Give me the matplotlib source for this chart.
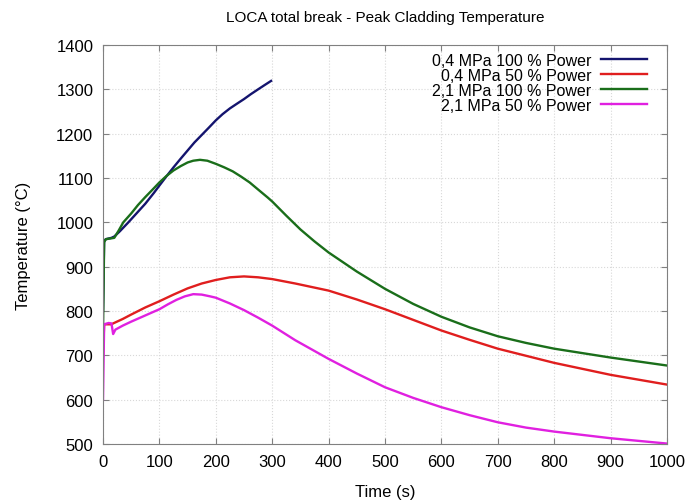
import matplotlib
matplotlib.use('Agg')
import matplotlib.pyplot as plt

plt.rcParams['font.family'] = ['Liberation Sans', 'DejaVu Sans']

# 0,4 MPa 100 % Power
t_04_100 = [0, 2, 5, 15, 20, 30, 45, 60, 75, 90, 100, 112, 125, 138, 150, 162, 175, 188, 200, 212,
            225, 238, 250, 262, 275, 287, 298]
T_04_100 = [800, 958, 962, 965, 968, 980, 1000, 1021, 1042, 1066, 1083, 1103, 1124, 1144, 1162, 1180,
            1197, 1214, 1230, 1244, 1257, 1268, 1278, 1289, 1300, 1310, 1319]

# 0,4 MPa 50 % Power
t_04_50 = [0, 2, 15, 18, 35, 50, 75, 100, 125, 150, 175, 200, 225, 250, 275, 300, 341, 400, 450,
           500, 550, 600, 650, 700, 800, 900, 1000]
T_04_50 = [700, 770, 770, 772, 782, 792, 808, 822, 837, 851, 862, 870, 876, 878, 876, 872, 862, 846,
           826, 804, 780, 756, 735, 715, 683, 656, 634]

# 2,1 MPa 100 % Power
t_21_100 = [0, 2, 5, 20, 28, 36, 50, 62, 75, 88, 100, 112, 125, 138, 150, 160, 172, 185, 200, 215,
            230, 245, 260, 275, 292, 300, 325, 350, 375, 400, 450, 500, 550, 600, 650, 700, 750, 800,
            900, 1000]
T_21_100 = [750, 955, 962, 965, 982, 1000, 1020, 1039, 1057, 1074, 1090, 1104, 1117, 1127, 1135, 1139,
            1141, 1139, 1132, 1124, 1115, 1103, 1090, 1074, 1056, 1047, 1015, 984, 957, 932, 889, 850,
            816, 787, 763, 743, 728, 715, 695, 677]

# 2,1 MPa 50 % Power
t_21_50 = [0, 2, 10, 15, 18, 22, 35, 50, 75, 100, 115, 130, 145, 160, 175, 190, 200, 225, 250, 275,
           300, 341, 400, 450, 500, 550, 600, 650, 700, 750, 800, 900, 1000]
T_21_50 = [600, 770, 773, 772, 748, 758, 767, 776, 790, 804, 815, 825, 833, 838, 837, 833, 830, 817,
           802, 785, 767, 734, 692, 659, 628, 604, 583, 565, 549, 537, 528, 513, 501]

labels = ['0,4 MPa 100 % Power', '0,4 MPa 50 % Power', '2,1 MPa 100 % Power', '2,1 MPa 50 % Power']
colors = ['#14146e', '#e01e1e', '#1a6e1a', '#e020e0']

fig = plt.figure(figsize=(6.89, 5.02), dpi=100)
ax = fig.add_axes([103/689, 1 - 445/502, 564/689, 399/502])

series = [(t_04_100, T_04_100), (t_04_50, T_04_50), (t_21_100, T_21_100), (t_21_50, T_21_50)]
for (t, T), lab, c in zip(series, labels, colors):
    ax.plot(t, T, color=c, lw=1.7, label=lab, solid_joinstyle='round')

ax.set_xlim(0, 1000)
ax.set_ylim(500, 1400)
ax.set_xticks(range(0, 1001, 100))
ax.set_yticks(range(500, 1401, 100))
ax.grid(True, color='#d8d8d8', lw=0.8, ls=':')
ax.tick_params(direction='in', top=True, right=True, length=4, labelsize=12, color='#808080', pad=7)
for s in ax.spines.values():
    s.set_color('#808080')

ax.set_title('LOCA total break - Peak Cladding Temperature', fontsize=11, pad=17)
ax.set_xlabel('Time (s)', fontsize=12, labelpad=11)
ax.set_ylabel('Temperature (°C)', fontsize=12, labelpad=18)

leg = ax.legend(loc='upper right', bbox_to_anchor=(0.9645, 0.98), frameon=False, fontsize=11.5,
                markerfirst=False, borderpad=0, borderaxespad=0, labelspacing=0.0,
                handlelength=2.9, handletextpad=0.6)

fig.savefig('out.png', dpi=100)
